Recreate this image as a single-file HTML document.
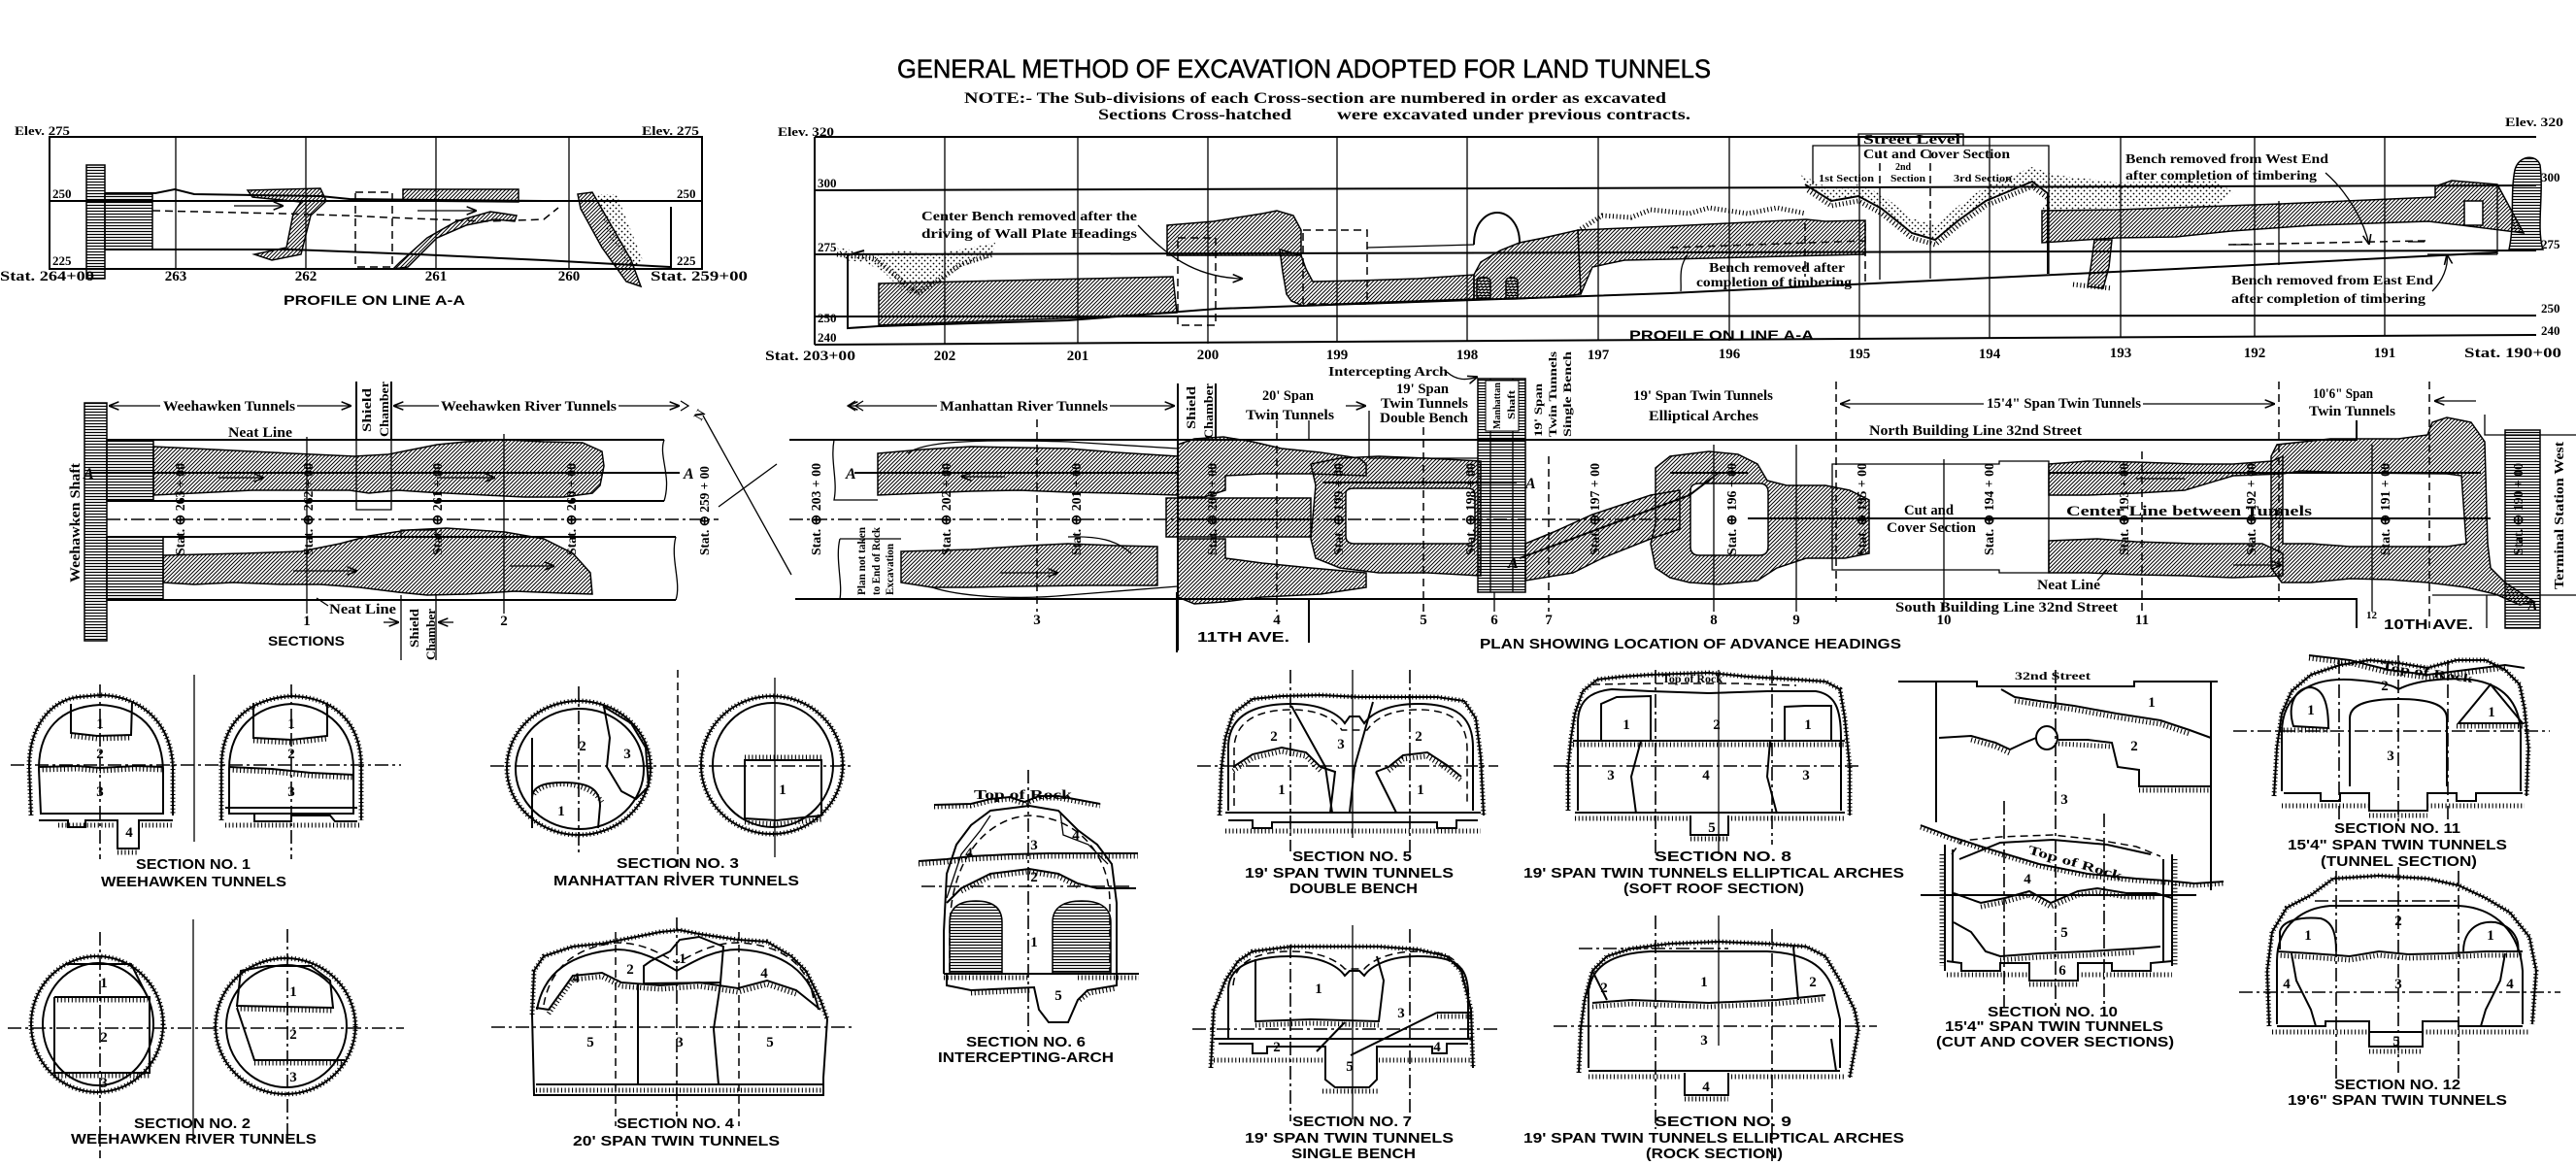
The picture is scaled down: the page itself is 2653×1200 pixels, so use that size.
<!DOCTYPE html>
<html><head><meta charset="utf-8"><style>
html,body{margin:0;padding:0;background:#fff;}
svg{display:block}
.o{fill:none;stroke:#000;stroke-width:2}
.t{fill:none;stroke:#000;stroke-width:1.3}
.g{fill:none;stroke:#000;stroke-width:5;stroke-dasharray:1.1 2.6}
.d{fill:none;stroke:#000;stroke-width:1.5;stroke-dasharray:8 5}
.dd{fill:none;stroke:#000;stroke-width:1.6;stroke-dasharray:14 4 3 4}
.hat{fill:url(#h);stroke:#000;stroke-width:1.5}
.hz{fill:url(#hz);stroke:#000;stroke-width:1.5}
.st{fill:url(#st);stroke:none}
.ser{font-family:"Liberation Serif",serif;font-weight:bold}
.san{font-family:"Liberation Sans",sans-serif;font-weight:bold}
.n{font-family:"Liberation Serif",serif;font-weight:bold;font-size:15px;text-anchor:middle}
</style></head><body>
<svg xmlns="http://www.w3.org/2000/svg" width="2653" height="1200" viewBox="0 0 2653 1200">
<defs>
<pattern id="h" width="4" height="4" patternUnits="userSpaceOnUse"><path d="M-1,1 l2,-2 M0,4 l4,-4 M3,5 l2,-2" stroke="#000" stroke-width="1"/></pattern>
<pattern id="hz" width="4" height="3" patternUnits="userSpaceOnUse"><path d="M0,1.5 H4" stroke="#000" stroke-width="1.2"/></pattern>
<pattern id="st" width="6" height="6" patternUnits="userSpaceOnUse"><circle cx="1.5" cy="1.5" r="0.9"/><circle cx="4.5" cy="4.5" r="0.9"/></pattern>
<marker id="ar" viewBox="0 0 10 10" refX="10" refY="5" markerWidth="8" markerHeight="8" orient="auto-start-reverse"><path d="M0,1 L10,5 L0,9" fill="none" stroke="#000" stroke-width="1.5"/></marker>
</defs>
<rect width="2653" height="1200" fill="#fff"/>

<!-- TITLE -->
<text x="924" y="80" font-family="Liberation Sans, sans-serif" font-size="27" stroke="#000" stroke-width="0.5" textLength="838" lengthAdjust="spacingAndGlyphs">GENERAL METHOD OF EXCAVATION ADOPTED FOR LAND TUNNELS</text>
<text class="ser" x="993" y="106" font-size="16" textLength="723" lengthAdjust="spacingAndGlyphs">NOTE:- The Sub-divisions of each Cross-section are numbered in order as excavated</text>
<text class="ser" x="1131" y="123" font-size="16" textLength="199" lengthAdjust="spacingAndGlyphs">Sections Cross-hatched</text>
<text class="ser" x="1377" y="123" font-size="16" textLength="364" lengthAdjust="spacingAndGlyphs">were excavated under previous contracts.</text>

<!-- TOP LEFT PROFILE -->
<rect x="51" y="141" width="672" height="136" class="o"/>
<path class="o" d="M51,141 H723" stroke-width="3"/>
<path class="o" d="M51,207 H723"/>
<path class="t" d="M181,141V277M315,141V277M449,141V277M586,141V277"/>
<g class="ser" font-size="13">
<text x="15" y="139" textLength="57" lengthAdjust="spacingAndGlyphs">Elev. 275</text>
<text x="661" y="139" textLength="59" lengthAdjust="spacingAndGlyphs">Elev. 275</text>
<text x="54" y="204">250</text><text x="54" y="273">225</text>
<text x="697" y="204">250</text><text x="697" y="273">225</text>
</g>
<g class="ser" font-size="15">
<text x="0" y="289" textLength="97" lengthAdjust="spacingAndGlyphs">Stat. 264+00</text>
<text x="181" y="289" text-anchor="middle">263</text>
<text x="315" y="289" text-anchor="middle">262</text>
<text x="449" y="289" text-anchor="middle">261</text>
<text x="586" y="289" text-anchor="middle">260</text>
<text x="670" y="289" textLength="100" lengthAdjust="spacingAndGlyphs">Stat. 259+00</text>
</g>
<text class="san" x="292" y="314" font-size="14" textLength="187" lengthAdjust="spacingAndGlyphs">PROFILE ON LINE A-A</text>
<rect x="89" y="170" width="19" height="117" class="hz"/>
<rect x="108" y="200" width="49" height="57" class="hz"/>
<path class="o" d="M108,199 H160 L180,195 L200,200 L260,201 L330,202 L360,205 L450,206 L560,207 L690,207"/>
<path class="o" d="M108,257 L300,257 L430,262 L560,268 L690,275"/>
<path class="d" d="M157,217 L290,220 L356,222 L400,224 L500,228 L560,226 L575,214"/>
<rect x="366" y="198" width="38" height="77" class="d" fill="none"/>
<path class="o" d="M691,213 V277"/>
<path class="hat" d="M255,196 L330,194 L336,207 L320,222 L310,262 L280,268 L262,262 L295,255 L302,220 L310,208 L260,203 Z"/>
<path class="hat" d="M415,195 L534,195 L534,208 L415,207 Z"/>
<path class="hat" d="M405,277 L420,275 L450,245 L480,232 L510,226 L530,228 L532,222 L505,218 L470,228 L440,245 L412,270 Z"/>
<path class="hat" d="M595,200 L610,198 L650,268 L660,295 L645,290 L620,255 L598,215 Z"/>
<path class="st" d="M615,200 L635,200 L662,268 L650,277 L625,240 Z"/>
<path class="t" d="M241,212 H292" marker-end="url(#ar)"/>
<path class="t" d="M430,217 H491" marker-end="url(#ar)"/>

<!-- TOP RIGHT PROFILE -->
<path class="o" d="M839,141 H2612" stroke-width="3"/>
<path class="o" d="M839,141 V355"/>
<path class="o" d="M839,196 L2612,191"/>
<path class="o" d="M839,262 L2612,258"/>
<path class="o" d="M839,326 L2612,325"/>
<path class="o" d="M839,355 L2612,345"/>
<path class="t" d="M973,141V355M1110,141V354M1244,141V354M1377,141V353M1511,141V352M1646,141V351M1781,141V351M1915,141V350M2049,141V349M2184,141V348M2322,141V347M2456,141V346"/>
<g class="ser" font-size="13">
<text x="801" y="140" textLength="58" lengthAdjust="spacingAndGlyphs">Elev. 320</text>
<text x="842" y="193">300</text><text x="842" y="259">275</text><text x="842" y="332">250</text><text x="842" y="352">240</text>
<text x="2580" y="130" textLength="60" lengthAdjust="spacingAndGlyphs">Elev. 320</text>
<text x="2617" y="187">300</text><text x="2617" y="256">275</text><text x="2617" y="322">250</text><text x="2617" y="345">240</text>
</g>
<g class="ser" font-size="15">
<text x="788" y="371" textLength="93" lengthAdjust="spacingAndGlyphs">Stat. 203+00</text>
<text x="973" y="371" text-anchor="middle">202</text>
<text x="1110" y="371" text-anchor="middle">201</text>
<text x="1244" y="370" text-anchor="middle">200</text>
<text x="1377" y="370" text-anchor="middle">199</text>
<text x="1511" y="370" text-anchor="middle">198</text>
<text x="1646" y="370" text-anchor="middle">197</text>
<text x="1781" y="369" text-anchor="middle">196</text>
<text x="1915" y="369" text-anchor="middle">195</text>
<text x="2049" y="369" text-anchor="middle">194</text>
<text x="2184" y="368" text-anchor="middle">193</text>
<text x="2322" y="368" text-anchor="middle">192</text>
<text x="2456" y="368" text-anchor="middle">191</text>
<text x="2538" y="368" textLength="100" lengthAdjust="spacingAndGlyphs">Stat. 190+00</text>
</g>
<!-- profile content -->
<path class="hat" d="M905,292 L1208,285 L1212,322 L1120,327 L980,332 L905,335 Z"/>
<path class="o" d="M890,258 L873,263 L873,338 L905,336"/>
<path class="o" d="M905,336 L1100,330 L1254,318 L1720,302 L1907,293 L2241,277 L2572,260"/>
<path class="st" d="M862,255 L880,258 L900,262 L930,258 L960,262 L1000,255 L1025,250 L1022,265 L990,275 L960,295 L945,305 L930,300 L910,280 L890,270 L870,268 Z"/>
<path class="g" d="M862,262 L900,266 L930,290 L945,302 L965,290 L990,272 L1022,262"/>
<!-- upper block -->
<path class="hat" d="M1202,232 L1250,228 L1300,220 L1315,217 L1332,222 L1340,237 L1340,263 L1202,263 Z"/>
<!-- S and lower bench -->
<path class="hat" d="M1318,257 L1340,263 L1345,277 L1352,290 L1400,289 L1460,287 L1518,283 L1518,308 L1460,310 L1400,312 L1342,315 L1330,310 L1325,303 L1321,280 Z"/>
<rect x="1213" y="245" width="39" height="90" class="d"/>
<path class="t" d="M1213,263 H1254"/>
<rect x="1342" y="237" width="66" height="76" class="d"/>
<path class="t" d="M1408,255 L1518,252"/>
<!-- intercepting arch region -->
<path class="hat" d="M1518,283 L1525,270 L1545,258 L1565,250 L1590,245 L1625,237 L1628,303 L1600,306 L1560,308 L1518,308 Z"/>
<path class="hz" d="M1521,307 V290 C1521,284 1535,284 1535,290 V307 Z"/>
<path class="hz" d="M1551,307 V290 C1551,284 1563,284 1563,290 V307 Z"/>
<path class="o" d="M1518,252 C1518,228 1532,219 1542,219 C1553,219 1565,230 1565,250" fill="#fff"/>
<!-- block past 197 -->
<path class="hat" d="M1625,237 L1720,233 L1800,229 L1860,226 L1880,228 L1921,227 L1921,262 L1880,263 L1800,265 L1720,267 L1673,268 L1640,275 L1628,303 Z"/>
<path class="g" d="M1628,236 L1650,222 L1680,224 L1700,216 L1740,220 L1760,214 L1800,220 L1830,214 L1860,220"/>
<path class="d" d="M1720,255 L1921,248 M1859,230 V285 M1921,230 V290"/>
<!-- cut and cover stipple wave -->
<path class="st" d="M1855,180 L1886,195 L1914,190 L1938,200 L1969,225 L1993,232 L2017,212 L2045,192 L2093,172 L2115,180 L2180,188 L2280,185 L2300,198 L2280,213 L2180,214 L2103,217 L2110,200 L2093,187 L2045,207 L2017,227 L1993,247 L1969,240 L1938,215 L1914,202 L1886,207 L1859,190 Z"/>
<path class="o" d="M1859,190 L1886,207 L1914,202 L1938,215 L1969,240 L1993,247 L2017,227 L2045,207 L2093,187 L2110,200"/>
<path class="g" d="M1862,196 L1886,212 L1914,207 L1938,220 L1969,245 L1993,252 L2017,232 L2045,212 L2093,192 L2110,205"/>
<path class="t" d="M1867,190 V150 H2110 V282 M1914,150 V138 H2022 V150 M1936,193 V288 M1988,227 V287"/>
<path class="d" d="M1936,155 V190 M1988,155 V225"/>
<!-- right band -->
<path class="hat" d="M2103,217 L2180,216 L2349,210 L2508,203 L2508,192 L2525,186 L2572,190 L2599,240 L2535,232 L2501,228 L2383,232 L2298,238 L2241,244 L2180,245 L2103,250 Z"/>
<path class="hat" d="M2157,247 L2175,247 L2172,275 L2166,297 L2150,295 L2154,270 Z"/>
<path class="g" d="M2135,293 L2175,297"/>
<path class="o" d="M2109,200 V282"/>
<rect x="2538" y="207" width="19" height="25" fill="#fff" stroke="#000" stroke-width="1.5"/>
<path class="hz" d="M2584,257 C2590,230 2585,200 2590,175 C2594,160 2612,158 2616,170 C2620,200 2612,235 2619,257 Z"/>
<path class="t" d="M2347,273 V207 M2572,190 V262 M2572,262 L2500,262"/>
<path class="d" d="M2295,252 L2499,248"/>
<path class="t" d="M2300,252 H2320 M2480,249 H2497" />
<path class="t" d="M1172,232 C1200,262 1230,286 1280,287" marker-end="url(#ar)"/>
<path class="t" d="M2395,178 C2420,200 2435,230 2440,252" marker-end="url(#ar)"/>
<path class="t" d="M2505,300 C2515,290 2522,275 2520,262" marker-end="url(#ar)"/>
<path class="t" d="M1738,263 C1728,275 1732,290 1731,300"/>
<g class="ser" font-size="14">
<text x="949" y="227" textLength="222" lengthAdjust="spacingAndGlyphs">Center Bench removed after the</text>
<text x="949" y="245" textLength="222" lengthAdjust="spacingAndGlyphs">driving of Wall Plate Headings</text>
<text x="1919" y="148" textLength="100" lengthAdjust="spacingAndGlyphs">Street Level</text>
<text x="1919" y="163" textLength="151" lengthAdjust="spacingAndGlyphs">Cut and Cover Section</text>
<text x="2189" y="168" textLength="209" lengthAdjust="spacingAndGlyphs">Bench removed from West End</text>
<text x="2189" y="185" textLength="197" lengthAdjust="spacingAndGlyphs">after completion of timbering</text>
<text x="1760" y="280" textLength="140" lengthAdjust="spacingAndGlyphs">Bench removed after</text>
<text x="1747" y="295" textLength="160" lengthAdjust="spacingAndGlyphs">completion of timbering</text>
<text x="2298" y="293" textLength="208" lengthAdjust="spacingAndGlyphs">Bench removed from East End</text>
<text x="2298" y="312" textLength="200" lengthAdjust="spacingAndGlyphs">after completion of timbering</text>
</g>
<g class="ser" font-size="10">
<text x="1873" y="187" textLength="57" lengthAdjust="spacingAndGlyphs">1st Section</text>
<text x="1952" y="175">2nd</text>
<text x="1947" y="187" textLength="36" lengthAdjust="spacingAndGlyphs">Section</text>
<text x="2012" y="187" textLength="60" lengthAdjust="spacingAndGlyphs">3rd Section</text>
</g>
<text class="san" x="1678" y="350" font-size="14" textLength="190" lengthAdjust="spacingAndGlyphs">PROFILE ON LINE A-A</text>

<!-- PLAN LEFT -->
<rect x="87" y="415" width="23" height="245" class="hz"/>
<text class="ser" font-size="15" transform="translate(82,600) rotate(-90)" textLength="123" lengthAdjust="spacingAndGlyphs">Weehawken Shaft</text>
<line x1="112" y1="418" x2="165" y2="418" class="t" marker-start="url(#ar)"/>
<line x1="306" y1="418" x2="362" y2="418" class="t" marker-end="url(#ar)"/>
<text class="ser" x="168" y="423" font-size="15" textLength="136" lengthAdjust="spacingAndGlyphs">Weehawken Tunnels</text>
<path class="o" d="M367,393 V453 M403,393 V453"/>
<text class="ser" font-size="13" transform="translate(382,445) rotate(-90)" textLength="45" lengthAdjust="spacingAndGlyphs">Shield</text>
<text class="ser" font-size="13" transform="translate(400,450) rotate(-90)" textLength="57" lengthAdjust="spacingAndGlyphs">Chamber</text>
<line x1="405" y1="418" x2="452" y2="418" class="t" marker-start="url(#ar)"/>
<line x1="637" y1="418" x2="700" y2="418" class="t" marker-end="url(#ar)"/>
<path class="t" d="M701,413 L709,418 L701,423"/>
<text class="ser" x="454" y="423" font-size="15" textLength="181" lengthAdjust="spacingAndGlyphs">Weehawken River Tunnels</text>
<text class="ser" x="235" y="450" font-size="15" textLength="66" lengthAdjust="spacingAndGlyphs">Neat Line</text>
<path class="o" d="M110,453 H684 M110,516 H684"/>
<path class="t" d="M684,453 C678,470 692,490 684,516"/>
<rect x="110" y="453" width="48" height="63" class="hz"/>
<path class="hat" d="M158,460 L200,462 L260,465 L300,467 L365,470 L400,468 L420,464 L450,458 L480,455 L520,453 L560,455 L600,456 L620,465 L622,480 L618,500 L610,508 L580,512 L540,512 L500,510 L440,507 L410,505 L380,508 L360,505 L320,505 L260,505 L200,508 L158,510 Z"/>
<path class="t" d="M367,453 V525 H403 V453"/>
<path class="o" d="M92,487 H700"/>
<text class="ser" x="86" y="493" font-size="16" font-style="italic">A</text>
<text class="ser" x="704" y="493" font-size="16" font-style="italic">A</text>
<path class="t" d="M225,492 H272" marker-end="url(#ar)"/>
<path class="t" d="M450,492 H510" marker-end="url(#ar)"/>
<path class="dd" d="M110,535 H740"/>
<path class="o" d="M110,553 H696 M110,618 H696"/>
<path class="t" d="M696,553 C690,575 702,600 696,618"/>
<rect x="110" y="553" width="58" height="65" class="hz"/>
<path class="hat" d="M168,572 L250,570 L310,568 L350,560 L380,552 L420,546 L460,544 L520,548 L560,555 L590,570 L608,590 L610,612 L580,611 L530,609 L480,612 L440,613 L410,610 L370,605 L330,602 L290,602 L240,600 L200,602 L168,600 Z"/>
<path class="t" d="M413,553 V546 H449 V553"/>
<path class="t" d="M302,588 H368" marker-end="url(#ar)"/>
<path class="t" d="M525,583 H571" marker-end="url(#ar)"/>
<path class="t" d="M316,450 V632 M519,447 V632"/>
<text class="n" x="316" y="644">1</text><text class="n" x="519" y="644">2</text>
<g class="ser" font-size="14">
<text transform="translate(190,572) rotate(-90)" textLength="95" lengthAdjust="spacingAndGlyphs">Stat. ⊕ 263 + 00</text>
<text transform="translate(322,572) rotate(-90)" textLength="95" lengthAdjust="spacingAndGlyphs">Stat. ⊕ 262 + 00</text>
<text transform="translate(455,572) rotate(-90)" textLength="95" lengthAdjust="spacingAndGlyphs">Stat. ⊕ 261 + 00</text>
<text transform="translate(593,572) rotate(-90)" textLength="95" lengthAdjust="spacingAndGlyphs">Stat. ⊕ 260 + 00</text>
<text transform="translate(730,572) rotate(-90)" textLength="92" lengthAdjust="spacingAndGlyphs">Stat. ⊕ 259 + 00</text>
</g>
<text class="san" x="276" y="665" font-size="14" textLength="79" lengthAdjust="spacingAndGlyphs">SECTIONS</text>
<text class="ser" x="339" y="632" font-size="15" textLength="69" lengthAdjust="spacingAndGlyphs">Neat Line</text>
<path class="t" d="M338,624 L326,616"/>
<path class="t" d="M413,613 V680 M449,613 V680"/>
<text class="ser" font-size="13" transform="translate(431,667) rotate(-90)" textLength="40" lengthAdjust="spacingAndGlyphs">Shield</text>
<text class="ser" font-size="13" transform="translate(448,680) rotate(-90)" textLength="53" lengthAdjust="spacingAndGlyphs">Chamber</text>
<path class="t" d="M395,641 H411" marker-end="url(#ar)"/>
<path class="t" d="M467,641 H451" marker-end="url(#ar)"/>
<path class="t" d="M724,428 L815,592 M740,522 L800,478"/>
<text class="ser" font-size="14" transform="translate(722,434) rotate(-60)">N</text>

<!-- PLAN RIGHT -->
<path class="o" d="M813,453 H2427 V433"/>
<path class="o" d="M819,617 H2427 V647"/>
<path class="t" d="M2559,427 V448 H2653 M2505,613 H2653 M2561,613 V647"/>
<path class="dd" d="M813,535 H1730"/>
<path class="t" d="M859,453 C855,475 863,495 859,515 H904 M865,555 C860,575 868,600 865,617 M865,555 H928"/>
<line x1="873" y1="418" x2="965" y2="418" class="t" marker-start="url(#ar)"/>
<path class="t" d="M881,413 L873,418 L881,423 M889,413 L881,418 L889,423"/>
<line x1="1143" y1="418" x2="1210" y2="418" class="t" marker-end="url(#ar)"/>
<text class="ser" x="968" y="423" font-size="15" textLength="173" lengthAdjust="spacingAndGlyphs">Manhattan River Tunnels</text>
<path class="o" d="M1213,395 V670 M1252,395 V453"/>
<text class="ser" font-size="13" transform="translate(1231,442) rotate(-90)" textLength="44" lengthAdjust="spacingAndGlyphs">Shield</text>
<text class="ser" font-size="13" transform="translate(1249,452) rotate(-90)" textLength="57" lengthAdjust="spacingAndGlyphs">Chamber</text>
<path class="t" d="M935,467 C950,455 1000,452 1100,455 L1213,462"/>
<path class="hat" d="M904,467 L950,463 L1000,460 L1100,462 L1150,466 L1213,470 L1213,510 L1150,508 L1100,507 L1050,505 L1000,506 L950,508 L904,510 Z"/>
<path class="hat" d="M928,568 L1000,566 L1060,562 L1100,560 L1150,562 L1192,563 L1192,603 L1120,603 L1050,604 L1000,605 L960,605 L928,600 Z"/>
<path class="t" d="M960,605 C990,615 1050,618 1100,613 L1213,604 M1100,553 C1130,552 1150,556 1165,570"/>
<path class="t" d="M1035,491 H990" marker-end="url(#ar)"/>
<path class="t" d="M1030,590 H1090" marker-end="url(#ar)"/>
<path class="o" d="M880,487 H1213"/>
<text class="ser" x="871" y="493" font-size="16" font-style="italic">A</text>
<path class="hat" d="M1213,458 L1230,452 L1260,450 L1290,455 L1320,462 L1360,466 L1400,472 L1407,478 L1407,490 L1350,488 L1300,488 L1262,490 L1262,505 L1240,512 L1213,512 Z"/>
<path class="hat" d="M1201,513 H1350 V553 H1201 Z"/>
<path class="hat" d="M1213,555 L1262,555 L1262,575 L1300,580 L1350,585 L1407,590 L1407,605 L1360,612 L1300,615 L1260,620 L1230,622 L1213,615 Z"/>
<path class="o" d="M1213,535 H1350"/>
<path class="hat" fill-rule="evenodd" d="M1350,478 L1380,472 L1420,470 L1470,472 L1525,475 L1525,593 L1470,590 L1420,590 L1380,585 L1355,575 L1350,555 L1355,500 Z M1386,508 Q1386,503 1395,503 L1512,503 Q1519,503 1519,510 L1519,553 Q1519,560 1510,560 L1395,560 Q1386,560 1386,552 Z"/>
<path class="o" d="M1362,497 H1562"/>
<path class="t" d="M1348,433 V453 M1410,423 V472 H1522"/>
<rect x="1522" y="390" width="49" height="220" class="hz"/>
<path class="t" d="M1535,390 V610 M1558,390 V610"/>
<rect x="1530" y="392" width="34" height="52" fill="#fff" stroke="#000" stroke-width="1"/>
<text class="ser" font-size="11" transform="translate(1545,442) rotate(-90)" textLength="48" lengthAdjust="spacingAndGlyphs">Manhattan</text>
<text class="ser" font-size="11" transform="translate(1560,432) rotate(-90)" textLength="30" lengthAdjust="spacingAndGlyphs">Shaft</text>
<g class="ser" font-size="12">
<text transform="translate(1588,450) rotate(-90)" textLength="55" lengthAdjust="spacingAndGlyphs">19' Span</text>
<text transform="translate(1603,450) rotate(-90)" textLength="88" lengthAdjust="spacingAndGlyphs">Twin Tunnels</text>
<text transform="translate(1618,450) rotate(-90)" textLength="88" lengthAdjust="spacingAndGlyphs">Single Bench</text>
</g>
<path class="hat" d="M1571,560 L1600,548 L1640,530 L1700,510 L1730,505 L1730,545 L1700,555 L1650,575 L1620,590 L1571,598 Z"/>
<path class="o" d="M1565,575 L1740,510 L1770,487 H1800"/>
<text class="ser" x="1571" y="503" font-size="16" font-style="italic">A</text>
<text class="ser" x="1553" y="585" font-size="16" font-style="italic">A</text>
<path class="hat" fill-rule="evenodd" d="M1705,482 L1720,470 L1760,465 L1790,468 L1810,478 L1820,495 L1840,500 L1880,500 L1905,505 L1925,515 L1925,570 L1900,575 L1860,575 L1830,585 L1810,598 L1770,602 L1740,600 L1720,595 L1705,585 L1700,560 L1705,540 Z M1741,505 Q1741,498 1750,498 L1812,498 Q1821,498 1821,507 L1821,563 Q1821,572 1812,572 L1750,572 Q1741,572 1741,563 Z"/>
<path class="o" d="M1720,487 H1800"/>
<path class="t" d="M1887,478 H2059 V475 H2110 V590 H2059 V587 H1887 Z"/>
<path class="o" d="M1800,534 H2565"/>
<path class="hat" d="M2110,478 L2150,475 L2200,476 L2260,478 L2300,478 L2340,475 L2351,470 L2351,488 L2300,490 L2250,505 L2200,508 L2150,510 L2110,510 Z"/>
<path class="hat" d="M2110,557 L2160,555 L2200,558 L2260,560 L2330,560 L2351,570 L2351,593 L2300,595 L2250,593 L2200,592 L2150,590 L2110,590 Z"/>
<path class="hat" fill-rule="evenodd" d="M2339,470 L2345,458 L2400,452 L2470,452 L2500,448 L2505,435 L2520,430 L2545,435 L2559,455 L2562,560 L2565,585 L2580,600 L2610,620 L2595,623 L2570,612 L2540,605 L2500,600 L2460,597 L2420,596 L2380,600 L2350,600 L2339,585 Z M2351,488 L2370,485 L2420,487 L2520,488 L2535,490 L2540,560 L2520,563 L2420,563 L2380,560 L2351,560 Z"/>
<path class="o" d="M2110,487 H2555"/>
<rect x="2580" y="443" width="36" height="204" class="hz"/>
<text class="ser" font-size="14" transform="translate(2640,607) rotate(-90)" textLength="152" lengthAdjust="spacingAndGlyphs">Terminal Station West</text>
<text class="ser" x="2603" y="629" font-size="16" font-style="italic">A</text>
<path class="t" d="M2250,493 H2200 M2300,582 H2350" marker-end="url(#ar)"/>
<path class="t" d="M1386,418 H1407" marker-end="url(#ar)"/>
<path class="t" d="M1490,383 C1500,392 1510,392 1522,388" marker-end="url(#ar)"/>
<line x1="1895" y1="416" x2="2043" y2="416" class="t" marker-start="url(#ar)"/>
<line x1="2207" y1="416" x2="2343" y2="416" class="t" marker-end="url(#ar)"/>
<path class="d" d="M1891,393 V620 M2347,393 V620 M2502,393 V647"/>
<path class="t" d="M2550,413 H2507" marker-end="url(#ar)"/>
<g class="ser" font-size="15">
<text x="1300" y="412" textLength="53" lengthAdjust="spacingAndGlyphs">20' Span</text>
<text x="1283" y="432" textLength="91" lengthAdjust="spacingAndGlyphs">Twin Tunnels</text>
<text x="1438" y="405" textLength="54" lengthAdjust="spacingAndGlyphs">19' Span</text>
<text x="1422" y="420" textLength="90" lengthAdjust="spacingAndGlyphs">Twin Tunnels</text>
<text x="1421" y="435" textLength="91" lengthAdjust="spacingAndGlyphs">Double Bench</text>
<text x="1368" y="387" font-size="14" textLength="123" lengthAdjust="spacingAndGlyphs">Intercepting Arch</text>
<text x="1682" y="412" textLength="144" lengthAdjust="spacingAndGlyphs">19' Span Twin Tunnels</text>
<text x="1698" y="433" textLength="113" lengthAdjust="spacingAndGlyphs">Elliptical Arches</text>
<text x="2046" y="420" textLength="159" lengthAdjust="spacingAndGlyphs">15'4" Span Twin Tunnels</text>
<text x="2382" y="410" textLength="62" lengthAdjust="spacingAndGlyphs">10'6" Span</text>
<text x="2378" y="428" textLength="89" lengthAdjust="spacingAndGlyphs">Twin Tunnels</text>
<text x="1925" y="448" textLength="219" lengthAdjust="spacingAndGlyphs">North Building Line 32nd Street</text>
<text x="1952" y="630" textLength="229" lengthAdjust="spacingAndGlyphs">South Building Line 32nd Street</text>
<text x="2098" y="607" textLength="65" lengthAdjust="spacingAndGlyphs">Neat Line</text>
<text x="2128" y="531" textLength="253" lengthAdjust="spacingAndGlyphs">Center  Line  between  Tunnels</text>
<text x="1961" y="530" textLength="51" lengthAdjust="spacingAndGlyphs">Cut and</text>
<text x="1943" y="548" textLength="92" lengthAdjust="spacingAndGlyphs">Cover Section</text>
</g>
<path class="t" d="M2160,598 L2170,587"/>
<g class="ser" font-size="12">
<text transform="translate(891,613) rotate(-90)" textLength="70" lengthAdjust="spacingAndGlyphs">Plan not taken</text>
<text transform="translate(906,613) rotate(-90)" textLength="70" lengthAdjust="spacingAndGlyphs">to End of Rock</text>
<text transform="translate(920,613) rotate(-90)" textLength="53" lengthAdjust="spacingAndGlyphs">Excavation</text>
</g>
<g class="ser" font-size="14">
<text transform="translate(845,572) rotate(-90)" textLength="95" lengthAdjust="spacingAndGlyphs">Stat. ⊕ 203 + 00</text>
<text transform="translate(979,572) rotate(-90)" textLength="95" lengthAdjust="spacingAndGlyphs">Stat. ⊕ 202 + 00</text>
<text transform="translate(1113,572) rotate(-90)" textLength="95" lengthAdjust="spacingAndGlyphs">Stat. ⊕ 201 + 00</text>
<text transform="translate(1253,572) rotate(-90)" textLength="95" lengthAdjust="spacingAndGlyphs">Stat. ⊕ 200 + 00</text>
<text transform="translate(1383,572) rotate(-90)" textLength="95" lengthAdjust="spacingAndGlyphs">Stat. ⊕ 199 + 00</text>
<text transform="translate(1519,572) rotate(-90)" textLength="95" lengthAdjust="spacingAndGlyphs">Stat. ⊕ 198 + 00</text>
<text transform="translate(1647,572) rotate(-90)" textLength="95" lengthAdjust="spacingAndGlyphs">Stat. ⊕ 197 + 00</text>
<text transform="translate(1788,572) rotate(-90)" textLength="95" lengthAdjust="spacingAndGlyphs">Stat. ⊕ 196 + 00</text>
<text transform="translate(1922,572) rotate(-90)" textLength="95" lengthAdjust="spacingAndGlyphs">Stat. ⊕ 195 + 00</text>
<text transform="translate(2053,572) rotate(-90)" textLength="95" lengthAdjust="spacingAndGlyphs">Stat. ⊕ 194 + 00</text>
<text transform="translate(2192,572) rotate(-90)" textLength="95" lengthAdjust="spacingAndGlyphs">Stat. ⊕ 193 + 00</text>
<text transform="translate(2323,572) rotate(-90)" textLength="95" lengthAdjust="spacingAndGlyphs">Stat. ⊕ 192 + 00</text>
<text transform="translate(2461,572) rotate(-90)" textLength="95" lengthAdjust="spacingAndGlyphs">Stat. ⊕ 191 + 00</text>
<text transform="translate(2598,572) rotate(-90)" textLength="95" lengthAdjust="spacingAndGlyphs">Stat. ⊕ 190 + 00</text>
</g>
<path class="d" d="M1068,432 V630 M1315,433 V630 M1466,440 V630 M1595,470 V630 M2206,465 V630"/>
<path class="t" d="M1539,610 V630 M1765,458 V630 M1850,458 V630 M2002,473 V630 M2443,458 V630"/>
<g class="n">
<text x="1068" y="643">3</text><text x="1315" y="643">4</text><text x="1466" y="643">5</text><text x="1539" y="643">6</text><text x="1595" y="643">7</text>
<text x="1765" y="643">8</text><text x="1850" y="643">9</text><text x="2002" y="643">10</text><text x="2206" y="643">11</text>
</g>
<text class="ser" x="2437" y="637" font-size="11">12</text>
<path class="o" d="M1212,610 V672 M1348,617 V662"/>
<text class="san" x="1233" y="661" font-size="15" textLength="95" lengthAdjust="spacingAndGlyphs">11TH AVE.</text>
<text class="san" x="2455" y="648" font-size="15" textLength="92" lengthAdjust="spacingAndGlyphs">10TH AVE.</text>
<text class="san" x="1524" y="668" font-size="15" textLength="434" lengthAdjust="spacingAndGlyphs">PLAN SHOWING LOCATION OF ADVANCE HEADINGS</text>

<!-- SECTION 1 -->
<path class="g" d="M32,840 L30,790 C30,748 52,722 80,718 L103,716 C140,716 176,740 178,790 L178,840"/>
<path class="o" d="M32,840 L30,790 C30,748 52,722 80,718 L103,716 C140,716 176,740 178,790 L178,840"/>
<path class="o" d="M42,838 L40,792 C40,752 62,728 103,726 C145,728 166,752 168,792 L168,838 Z"/>
<path class="o" d="M73,725 L73,755 L100,758 L135,757 L136,724"/>
<path class="g" d="M73,758 L100,761 L135,760"/>
<path class="o" d="M40,790 L80,789 L103,791 L140,789 L168,790"/><path class="g" d="M40,793 L80,792 L103,794 L140,792 L168,793"/>
<path class="o" d="M40,845 H70 V852 H88 V845 H121 V874 H143 V845 H178"/><path class="g" d="M60,850 H118 M146,850 H178 M121,878 H143"/>
<path class="dd" d="M103,705 V885 M300,705 V885 M11,788 H413"/><path class="t" d="M200,695 V867"/>
<path class="g" d="M228,845 L228,790 C228,745 255,720 300,717 C345,718 372,745 372,790 L372,845"/>
<path class="o" d="M228,845 L228,790 C228,745 255,720 300,717 C345,718 372,745 372,790 L372,845"/>
<path class="o" d="M236,838 V792 C236,752 262,727 300,725 C338,727 364,752 364,792 V838 Z"/>
<path class="o" d="M261,724 V760 L300,762 L337,758 V724"/><path class="g" d="M261,763 L300,765 L337,761"/>
<path class="o" d="M236,790 L280,792 L320,796 L364,798"/><path class="g" d="M236,793 L280,795 L320,799 L364,801"/>
<path class="o" d="M232,832 H368 M240,838 H262 V846 H300 V840 H340 L345,846 H368"/><path class="g" d="M232,850 H372"/>
<g class="n"><text x="103" y="750">1</text><text x="103" y="781">2</text><text x="103" y="820">3</text><text x="133" y="862">4</text>
<text x="300" y="750">1</text><text x="300" y="781">2</text><text x="300" y="820">3</text></g>
<text class="san" x="140" y="895" font-size="15" textLength="118" lengthAdjust="spacingAndGlyphs">SECTION NO. 1</text>
<text class="san" x="104" y="913" font-size="15" textLength="191" lengthAdjust="spacingAndGlyphs">WEEHAWKEN TUNNELS</text>

<!-- SECTION 3 -->
<ellipse cx="596" cy="791" rx="74" ry="69" class="g"/><ellipse cx="596" cy="791" rx="74" ry="69" class="o"/>
<ellipse cx="597" cy="792" rx="66" ry="62" class="o"/>
<path class="o" d="M548,760 V853"/>
<path class="o" d="M548,853 L548,822 C548,810 560,806 580,806 C605,806 618,812 618,830 L616,853"/><path class="g" d="M550,818 C560,803 605,803 620,826"/>
<path class="o" d="M622,728 L628,760 L625,790 L640,815 L655,823 L668,810 L665,770 L650,745 Z"/>
<ellipse cx="795" cy="788" rx="73" ry="71" class="g"/><ellipse cx="795" cy="788" rx="73" ry="71" class="o"/>
<ellipse cx="796" cy="788" rx="62" ry="64" class="o"/>
<path class="o" d="M767,843 V783 H846 V840 L800,845 Z"/><path class="g" d="M767,780 H846 M767,847 L800,849 L846,844"/>
<path class="dd" d="M596,707 V880 M505,789 H880"/><path class="d" d="M698,690 V903"/><path class="t" d="M798,698 V883"/>
<g class="n"><text x="600" y="773">2</text><text x="646" y="781">3</text><text x="578" y="840">1</text><text x="806" y="818">1</text></g>
<text class="san" x="635" y="894" font-size="15" textLength="126" lengthAdjust="spacingAndGlyphs">SECTION NO. 3</text>
<text class="san" x="570" y="912" font-size="15" textLength="253" lengthAdjust="spacingAndGlyphs">MANHATTAN RIVER TUNNELS</text>

<!-- SECTION 2 -->
<ellipse cx="100" cy="1055" rx="68" ry="70" class="g"/><ellipse cx="100" cy="1055" rx="68" ry="70" class="o"/>
<ellipse cx="101" cy="1055" rx="57" ry="63" class="o"/>
<path class="o" d="M67,993 H135 L152,1027 M56,1027 V1105 H154 V1027 H56"/><path class="g" d="M59,1030 H152 M56,1108 H154"/>
<ellipse cx="294" cy="1057" rx="72" ry="70" class="g"/><ellipse cx="294" cy="1057" rx="72" ry="70" class="o"/>
<ellipse cx="295" cy="1057" rx="62" ry="63" class="o"/>
<path class="o" d="M248,1000 L275,995 L320,995 L340,1010 L343,1038 L244,1036 Z"/><path class="g" d="M244,1039 L343,1041"/>
<path class="o" d="M244,1038 L262,1092 H355"/><path class="g" d="M262,1095 H355"/>
<path class="dd" d="M103,960 V1193 M296,957 V1170 M8,1059 H416"/><path class="t" d="M199,947 V1173"/>
<g class="n"><text x="107" y="1017">1</text><text x="107" y="1073">2</text><text x="107" y="1120">3</text>
<text x="302" y="1026">1</text><text x="302" y="1070">2</text><text x="302" y="1114">3</text></g>
<text class="san" x="138" y="1162" font-size="15" textLength="120" lengthAdjust="spacingAndGlyphs">SECTION NO. 2</text>
<text class="san" x="73" y="1178" font-size="15" textLength="253" lengthAdjust="spacingAndGlyphs">WEEHAWKEN RIVER TUNNELS</text>

<!-- SECTION 4 -->
<path class="g" d="M548,1045 L550,1000 L560,985 L590,975 L620,972 L640,968 L680,960 L700,958 L720,962 L760,968 L790,970 L815,985 L830,1000 L845,1030 L852,1050"/>
<path class="o" d="M548,1045 L550,1000 L560,985 L590,975 L620,972 L640,968 L680,960 L700,958 L720,962 L760,968 L790,970 L815,985 L830,1000 L845,1030 L852,1050 L848,1110 L848,1128 L550,1128 Z"/>
<path class="o" d="M553,1040 C560,1000 590,982 635,978 C660,978 680,990 697,1000 C715,990 735,978 760,978 C805,980 835,1000 843,1040"/>
<path class="d" d="M560,1035 C567,995 595,975 635,971 C662,971 680,982 697,992 C715,982 735,971 760,971 C805,973 832,993 838,1030"/>
<path class="o" d="M670,990 L690,980 L700,968 L720,965 L745,975 L742,1012 L663,1013 L663,995 Z"/>
<path class="o" d="M552,1038 L565,1040 L590,1005 L620,1002 L640,1012 L680,1015 L720,1012 L760,1018 L790,1010 L820,1020 L845,1040"/><path class="g" d="M565,1044 L590,1009 L620,1006 L640,1016 L680,1019 L720,1016 L760,1022 L790,1014 L820,1024"/>
<path class="o" d="M657,1013 V1117 M742,1013 L735,1060 L740,1117"/>
<path class="o" d="M552,1117 H848"/><path class="g" d="M552,1123 H848"/>
<g class="n"><text x="593" y="1012">4</text><text x="649" y="1003">2</text><text x="703" y="992">1</text><text x="787" y="1007">4</text>
<text x="608" y="1078">5</text><text x="700" y="1078">3</text><text x="793" y="1078">5</text></g>
<path class="d" d="M634,960 V1160 M761,960 V1160"/><path class="dd" d="M697,945 V1150 M506,1058 H880"/>
<text class="san" x="635" y="1162" font-size="15" textLength="121" lengthAdjust="spacingAndGlyphs">SECTION NO. 4</text>
<text class="san" x="590" y="1180" font-size="15" textLength="213" lengthAdjust="spacingAndGlyphs">20' SPAN TWIN TUNNELS</text>

<!-- SECTION 6 -->
<path class="g" d="M962,831 L1000,830 L1020,825 L1040,823 L1055,828 L1070,822 L1090,822 L1133,830"/>
<path class="o" d="M962,829 L1000,828 L1020,823 L1040,821 L1055,826 L1070,820 L1090,820 L1133,828"/>
<text class="ser" x="1003" y="823" font-size="14" textLength="101" lengthAdjust="spacingAndGlyphs">Top of Rock</text>
<path class="o" d="M972,1003 L972,960 L975,900 L985,870 L1000,850 L1020,835 L1060,830 L1090,835 L1110,855 L1130,870 L1145,890 L1150,930 L1150,1003"/>
<path class="d" d="M978,1000 V960 C978,880 1020,842 1060,840 C1110,842 1143,880 1143,930 V1000"/>
<path class="g" d="M946,890 L975,888 L1000,885 L1040,883 L1080,882 L1140,882 L1172,882"/><path class="o" d="M946,887 L975,885 L1000,882 L1040,880 L1080,879 L1140,879 L1172,879"/>
<path class="o" d="M975,930 L990,915 L1020,900 L1060,895 L1090,900 L1110,910 L1130,915 L1170,915"/><path class="g" d="M990,918 L1020,903 L1060,898 L1090,903 L1110,913"/>
<path class="t" d="M975,925 L990,880 L1010,855 L1020,840 M1092,837 L1095,860 L1121,870 L1141,890"/>
<path class="hz" d="M978,1002 V950 C978,933 990,928 1005,928 C1020,928 1032,933 1032,950 V1002 Z"/>
<path class="hz" d="M1084,1002 V950 C1084,933 1098,928 1114,928 C1130,928 1144,933 1144,950 V1002 Z"/>
<path class="o" d="M972,1003 H1173"/><path class="g" d="M972,1007 H1060 M1110,1007 H1173"/>
<path class="o" d="M975,1003 L975,1015 L1000,1020 L1065,1017 L1070,1040 L1080,1053 L1100,1053 L1110,1030 L1120,1020 L1150,1015 L1150,1003"/><path class="g" d="M1000,1023 L1062,1020 M1112,1030 L1122,1023 L1150,1018"/>
<path class="dd" d="M1059,793 V1063 M949,913 H1163"/>
<g class="n"><text x="1065" y="875">3</text><text x="998" y="883">4</text><text x="1108" y="865">4</text><text x="1065" y="908">2</text><text x="1065" y="975">1</text><text x="1090" y="1030">5</text></g>
<text class="san" x="995" y="1078" font-size="15" textLength="123" lengthAdjust="spacingAndGlyphs">SECTION NO. 6</text>
<text class="san" x="966" y="1094" font-size="15" textLength="181" lengthAdjust="spacingAndGlyphs">INTERCEPTING-ARCH</text>

<!-- SECTION 5 -->
<path class="g" d="M1256,840 L1258,790 L1262,760 L1270,735 L1290,720 L1320,717 L1360,716 L1400,718 L1440,718 L1480,718 L1508,722 L1520,740 L1525,780 L1528,840"/>
<path class="o" d="M1256,840 L1258,790 L1262,760 L1270,735 L1290,720 L1320,717 L1360,716 L1400,718 L1440,718 L1480,718 L1508,722 L1520,740 L1525,780 L1528,840"/>
<path class="o" d="M1265,835 V770 C1265,738 1290,725 1330,725 C1360,725 1378,735 1385,745 L1390,738 L1400,738 L1405,745 C1412,735 1430,725 1460,725 C1500,725 1517,738 1517,770 V835"/>
<path class="d" d="M1271,830 V772 C1271,744 1294,731 1330,731 C1358,731 1374,740 1382,752 L1408,752 C1416,740 1432,731 1460,731 C1496,731 1511,744 1511,772 V830"/>
<path class="o" d="M1270,790 L1290,777 L1320,770 L1345,775 L1360,790 L1375,795 L1370,837"/><path class="g" d="M1270,794 L1290,781 L1320,774 L1345,779 L1360,794"/>
<path class="o" d="M1417,795 L1430,790 L1445,778 L1470,775 L1490,788 L1505,800 M1417,795 L1438,837"/><path class="g" d="M1430,794 L1445,782 L1470,779 L1490,792 L1505,804"/>
<path class="o" d="M1330,727 L1365,790 L1372,837 M1414,723 L1395,790 L1390,837"/>
<path class="o" d="M1262,837 H1525 M1265,845 H1290 V853 H1310 V847 H1480 V853 H1500 V845 H1522"/><path class="g" d="M1262,856 H1525"/>
<g class="n"><text x="1312" y="763">2</text><text x="1381" y="771">3</text><text x="1461" y="763">2</text><text x="1320" y="818">1</text><text x="1463" y="818">1</text></g>
<path class="dd" d="M1329,690 V877 M1452,690 V877 M1233,789 H1543"/><path class="t" d="M1393,690 V863"/>
<text class="san" x="1331" y="887" font-size="15" textLength="123" lengthAdjust="spacingAndGlyphs">SECTION NO. 5</text>
<text class="san" x="1282" y="904" font-size="15" textLength="215" lengthAdjust="spacingAndGlyphs">19' SPAN TWIN TUNNELS</text>
<text class="san" x="1328" y="920" font-size="15" textLength="132" lengthAdjust="spacingAndGlyphs">DOUBLE BENCH</text>

<!-- SECTION 7 -->
<path class="g" d="M1247,1100 L1250,1040 L1262,1010 L1275,990 L1290,980 L1330,975 L1380,975 L1420,975 L1460,978 L1490,985 L1505,1000 L1515,1040 L1517,1100"/>
<path class="o" d="M1247,1100 L1250,1040 L1262,1010 L1275,990 L1290,980 L1330,975 L1380,975 L1420,975 L1460,978 L1490,985 L1505,1000 L1515,1040 L1517,1100"/>
<path class="o" d="M1265,1070 V1020 C1265,995 1290,985 1330,985 C1360,985 1378,995 1385,1005 L1390,1000 L1400,1000 L1405,1005 C1412,995 1430,985 1460,985 C1500,985 1510,995 1512,1020 V1070"/>
<path class="d" d="M1270,1015 C1272,990 1295,980 1330,980 C1360,980 1378,990 1385,998 L1405,998 C1412,990 1430,980 1460,980 C1495,980 1505,990 1507,1012"/>
<path class="o" d="M1293,988 L1293,1052 L1350,1050 L1420,1052 L1425,1010 L1418,985"/><path class="g" d="M1293,1056 L1350,1054 L1420,1056"/>
<path class="o" d="M1385,1053 L1356,1083 M1480,1043 L1391,1087"/><path class="o" d="M1480,1043 H1515"/><path class="g" d="M1480,1047 H1515"/>
<path class="o" d="M1250,1070 H1515 M1255,1075 H1290 V1085 H1305 V1078 H1365 V1112 L1375,1120 H1410 L1418,1112 V1078 H1475 V1085 H1490 V1075 H1512"/>
<path class="g" d="M1250,1092 H1362 M1362,1124 H1420 M1420,1092 H1515"/>
<g class="n"><text x="1358" y="1023">1</text><text x="1443" y="1048">3</text><text x="1315" y="1083">2</text><text x="1480" y="1083">4</text><text x="1390" y="1103">5</text></g>
<path class="dd" d="M1329,973 V1155 M1452,957 V1157 M1228,1060 H1545"/><path class="t" d="M1393,953 V1153"/>
<text class="san" x="1331" y="1160" font-size="15" textLength="123" lengthAdjust="spacingAndGlyphs">SECTION NO. 7</text>
<text class="san" x="1282" y="1177" font-size="15" textLength="215" lengthAdjust="spacingAndGlyphs">19' SPAN TWIN TUNNELS</text>
<text class="san" x="1330" y="1193" font-size="15" textLength="128" lengthAdjust="spacingAndGlyphs">SINGLE BENCH</text>

<!-- SECTION 8 -->
<path class="g" d="M1615,835 L1615,790 L1618,760 L1622,735 L1630,712 L1645,700 L1670,697 L1700,695 L1760,693 L1800,697 L1850,700 L1880,702 L1895,710 L1900,740 L1905,790 L1905,840"/>
<path class="o" d="M1615,835 L1615,790 L1618,760 L1622,735 L1630,712 L1645,700 L1670,697 L1700,695 L1760,693 L1800,697 L1850,700 L1880,702 L1895,710 L1900,740 L1905,790 L1905,840"/>
<path class="d" d="M1640,705 L1700,704 L1790,704 L1850,706"/>
<text class="ser" x="1712" y="703" font-size="12" textLength="62" lengthAdjust="spacingAndGlyphs">Top of Rock</text>
<path class="o" d="M1625,835 V745 C1625,720 1640,712 1660,710 L1700,712 L1760,714 L1820,712 L1870,712 C1890,715 1896,730 1896,760 V835"/>
<path class="o" d="M1649,763 V725 L1665,718 L1700,717 V763 M1838,763 V728 L1860,727 L1886,727 V763"/>
<path class="o" d="M1620,763 H1900"/><path class="g" d="M1620,767 H1900"/>
<path class="o" d="M1690,763 L1680,800 L1685,838 M1823,763 L1820,800 L1830,838"/>
<path class="o" d="M1622,837 H1900 M1741,840 V860 H1780 V840"/><path class="g" d="M1622,843 H1738 M1783,843 H1900 M1741,864 H1780"/>
<g class="n"><text x="1675" y="751">1</text><text x="1768" y="751">2</text><text x="1862" y="751">1</text><text x="1659" y="803">3</text><text x="1757" y="803">4</text><text x="1860" y="803">3</text><text x="1763" y="857">5</text></g>
<path class="dd" d="M1705,690 V880 M1825,690 V870 M1600,789 H1914"/><path class="t" d="M1770,690 V880"/>
<text class="san" x="1704" y="887" font-size="15" textLength="141" lengthAdjust="spacingAndGlyphs">SECTION NO. 8</text>
<text class="san" x="1569" y="904" font-size="15" textLength="392" lengthAdjust="spacingAndGlyphs">19' SPAN TWIN TUNNELS ELLIPTICAL ARCHES</text>
<text class="san" x="1672" y="920" font-size="15" textLength="186" lengthAdjust="spacingAndGlyphs">(SOFT ROOF SECTION)</text>

<!-- SECTION 9 -->
<path class="g" d="M1626,1105 L1628,1060 L1632,1030 L1640,1000 L1655,985 L1680,977 L1720,972 L1770,970 L1820,972 L1860,975 L1880,985 L1895,1010 L1910,1040 L1914,1060 L1905,1110"/>
<path class="o" d="M1626,1105 L1628,1060 L1632,1030 L1640,1000 L1655,985 L1680,977 L1720,972 L1770,970 L1820,972 L1860,975 L1880,985 L1895,1010 L1910,1040 L1914,1060 L1905,1110"/>
<path class="o" d="M1636,1100 V1020 C1640,995 1660,982 1700,980 L1820,980 C1860,982 1880,995 1888,1020 L1895,1050 V1100"/>
<path class="dd" d="M1626,977 H1780"/>
<path class="o" d="M1640,1033 L1680,1030 L1760,1033 L1830,1030 L1880,1025"/><path class="g" d="M1640,1037 L1680,1034 L1760,1037 L1830,1034 L1880,1029"/>
<path class="o" d="M1847,975 L1852,1030 M1640,1000 L1655,1030 M1886,1070 L1891,1103"/>
<path class="o" d="M1636,1103 H1895 M1735,1105 V1128 H1780 V1105"/><path class="g" d="M1636,1109 H1732 M1783,1109 H1900 M1735,1132 H1780"/>
<g class="n"><text x="1755" y="1016">1</text><text x="1652" y="1022">2</text><text x="1867" y="1016">2</text><text x="1755" y="1076">3</text><text x="1757" y="1124">4</text></g>
<path class="dd" d="M1705,943 V1163 M1825,957 V1200 M1600,1057 H1933"/><path class="t" d="M1770,943 V1077"/>
<text class="san" x="1704" y="1160" font-size="15" textLength="141" lengthAdjust="spacingAndGlyphs">SECTION NO. 9</text>
<text class="san" x="1569" y="1177" font-size="15" textLength="392" lengthAdjust="spacingAndGlyphs">19' SPAN TWIN TUNNELS ELLIPTICAL ARCHES</text>
<text class="san" x="1695" y="1193" font-size="15" textLength="141" lengthAdjust="spacingAndGlyphs">(ROCK SECTION)</text>

<!-- SECTION 10 -->
<path class="o" d="M1955,702 H2036 V707 H2198 V702 H2284" stroke-width="2.5"/>
<text class="ser" x="2075" y="700" font-size="12" textLength="78" lengthAdjust="spacingAndGlyphs">32nd Street</text>
<path class="o" d="M1994,703 V847 M2277,703 V917"/>
<path class="o" d="M2061,710 L2075,718 L2100,722 L2136,727 L2180,735 L2225,742 L2255,752 L2277,760"/><path class="g" d="M2075,722 L2100,726 L2136,731 L2180,739 L2225,746 L2255,756"/>
<path class="o" d="M1997,760 L2030,758 L2055,765 L2070,772 L2085,765 L2097,760 M2120,762 L2150,762 L2175,765 L2181,790 L2203,793 L2203,810 L2277,810"/><path class="g" d="M2030,762 L2055,769 L2070,776 M2120,766 L2175,769 M2203,814 L2277,814"/>
<ellipse cx="2108" cy="760" rx="11" ry="12" class="o"/>
<path class="g" d="M1978,852 L2010,864 L2050,877 L2100,892 L2150,902 L2200,907 L2230,909 L2260,912 L2290,910"/>
<path class="o" d="M1978,850 L2010,862 L2050,875 L2100,890 L2150,900 L2200,905 L2230,907 L2260,910 L2290,908"/>
<text class="ser" font-size="13" transform="translate(2088,879) rotate(16)" textLength="100" lengthAdjust="spacingAndGlyphs">Top   of   Rock</text>
<path class="d" d="M2010,880 L2020,866 L2060,862 L2114,860 L2160,865 L2200,872 L2225,882"/>
<path class="o" d="M2018,885 L2060,868 L2114,865 L2170,870 L2215,880"/>
<path class="o" d="M2003,1000 L2003,870 M2237,880 L2237,995 M2011,875 V990 M2228,885 V990"/><path class="g" d="M2000,880 V995 M2240,885 V995"/>
<path class="o" d="M2012,920 L2040,930 L2065,925 L2090,918 L2112,930 L2140,918 L2160,915 L2190,920 L2220,920 L2237,925"/><path class="g" d="M2040,934 L2065,929 L2090,922 L2112,934 L2140,922 L2160,919 L2190,924 L2220,924"/>
<path class="o" d="M2012,950 L2030,960 L2045,980 L2060,985 L2100,982 L2150,980 L2200,977 L2225,975"/><path class="g" d="M2060,989 L2100,986 L2150,984 L2200,981"/>
<path class="o" d="M2005,990 L2020,992 V1000 H2060 V992 H2090 V1010 H2140 V992 H2175 V1000 H2215 V992 L2237,990"/><path class="g" d="M2005,1004 H2090 M2090,1014 H2140 M2140,1004 H2237"/>
<g class="n"><text x="2216" y="728">1</text><text x="2198" y="773">2</text><text x="2126" y="828">3</text><text x="2088" y="910">4</text><text x="2126" y="965">5</text><text x="2124" y="1004">6</text></g>
<path class="dd" d="M2117,690 V1037 M2064,825 V1037 M2167,838 V1037"/><path class="o" d="M1978,922 H2262"/>
<text class="san" x="2047" y="1047" font-size="15" textLength="134" lengthAdjust="spacingAndGlyphs">SECTION NO. 10</text>
<text class="san" x="2003" y="1062" font-size="15" textLength="225" lengthAdjust="spacingAndGlyphs">15'4" SPAN TWIN TUNNELS</text>
<text class="san" x="1994" y="1078" font-size="15" textLength="245" lengthAdjust="spacingAndGlyphs">(CUT AND COVER SECTIONS)</text>

<!-- SECTION 11 -->
<path class="g" d="M2342,820 L2345,770 L2350,735 L2360,712 L2380,695 L2410,685 L2440,680 L2470,683 L2500,688 L2530,680 L2560,680 L2580,690 L2595,705 L2600,730 L2604,770 L2602,820"/>
<path class="o" d="M2342,820 L2345,770 L2350,735 L2360,712 L2380,695 L2410,685 L2440,680 L2470,683 L2500,688 L2530,680 L2560,680 L2580,690 L2595,705 L2600,730 L2604,770 L2602,820"/>
<path class="o" d="M2378,675 L2420,680 L2460,690 L2500,695 L2540,690 L2580,685 L2600,688"/><path class="g" d="M2378,678 L2420,683 L2460,693 L2500,698 L2540,693 L2580,688"/>
<text class="ser" font-size="12" transform="translate(2452,690) rotate(8)" textLength="95" lengthAdjust="spacingAndGlyphs">Top   of   Rock</text>
<path class="o" d="M2350,815 V755 C2350,715 2380,698 2420,700 C2450,702 2465,706 2470,710 C2490,700 2520,698 2545,700 C2580,705 2595,725 2596,755 V815"/>
<path class="o" d="M2362,748 C2355,725 2365,708 2380,708 C2395,710 2398,730 2398,750 Z"/>
<path class="o" d="M2532,745 L2565,705 L2598,745 Z"/>
<path class="o" d="M2420,810 V740 C2420,725 2440,720 2470,720 C2500,720 2520,725 2520,740 V810"/>
<path class="g" d="M2348,752 L2400,752 M2530,748 L2600,748"/>
<path class="o" d="M2352,817 H2390 V825 H2410 V817 H2440 V835 H2500 V817 H2530 V825 H2550 V817 H2598"/><path class="g" d="M2350,830 H2440 M2440,840 H2500 M2500,830 H2600"/>
<g class="n"><text x="2380" y="736">1</text><text x="2456" y="711">2</text><text x="2566" y="738">1</text><text x="2462" y="783">3</text></g>
<path class="dd" d="M2409,680 V850 M2470,675 V850 M2521,680 V850 M2300,753 H2626"/>
<text class="san" x="2404" y="858" font-size="15" textLength="130" lengthAdjust="spacingAndGlyphs">SECTION NO. 11</text>
<text class="san" x="2356" y="875" font-size="15" textLength="226" lengthAdjust="spacingAndGlyphs">15'4" SPAN TWIN TUNNELS</text>
<text class="san" x="2390" y="892" font-size="15" textLength="161" lengthAdjust="spacingAndGlyphs">(TUNNEL SECTION)</text>

<!-- SECTION 12 -->
<path class="g" d="M2337,1057 L2335,1000 L2340,960 L2355,935 L2380,922 L2403,905 L2450,902 L2500,905 L2532,912 L2560,925 L2585,940 L2605,965 L2612,1000 L2608,1055"/>
<path class="o" d="M2337,1057 L2335,1000 L2340,960 L2355,935 L2380,922 L2403,905 L2450,902 L2500,905 L2532,912 L2560,925 L2585,940 L2605,965 L2612,1000 L2608,1055"/>
<path class="o" d="M2345,1055 V990 C2345,950 2375,935 2400,933 H2532 C2570,935 2595,960 2598,1000 V1055"/>
<path class="dd" d="M2384,928 H2532"/>
<path class="o" d="M2348,978 V960 C2350,948 2370,944 2390,946 C2404,950 2406,965 2406,980 M2537,980 C2537,960 2550,948 2570,950 C2590,955 2595,970 2593,980"/>
<path class="o" d="M2345,980 L2380,982 L2420,985 L2450,980 L2480,983 L2520,982 L2560,980 L2598,980"/><path class="g" d="M2345,984 L2380,986 L2420,989 L2450,984 L2480,987 L2520,986 L2560,984 L2598,984"/>
<path class="o" d="M2360,982 L2365,1010 L2380,1040 L2385,1057 M2580,982 L2575,1010 L2560,1040 L2555,1057"/>
<path class="o" d="M2345,1057 H2395 V1052 H2440 V1063 H2495 V1052 H2532 V1057 H2598 M2440,1063 V1078 H2495 V1063"/><path class="g" d="M2340,1063 H2440 M2440,1083 H2495 M2495,1063 H2605"/>
<g class="n"><text x="2470" y="953">2</text><text x="2377" y="968">1</text><text x="2565" y="968">1</text><text x="2355" y="1018">4</text><text x="2470" y="1018">3</text><text x="2585" y="1018">4</text><text x="2468" y="1077">5</text></g>
<path class="dd" d="M2406,897 V1112 M2470,893 V1105 M2532,897 V1112 M2306,1022 H2637"/>
<text class="san" x="2404" y="1122" font-size="15" textLength="130" lengthAdjust="spacingAndGlyphs">SECTION NO. 12</text>
<text class="san" x="2356" y="1138" font-size="15" textLength="226" lengthAdjust="spacingAndGlyphs">19'6" SPAN TWIN TUNNELS</text>
</svg>
</body></html>
